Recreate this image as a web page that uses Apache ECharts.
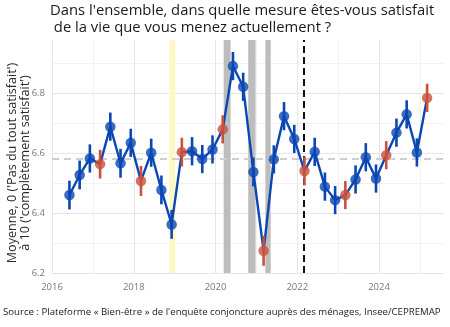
<!DOCTYPE html>
<html><head><meta charset="utf-8">
<script src="https://cdn.jsdelivr.net/npm/echarts@6/dist/echarts.min.js"></script>
<style>html,body{margin:0;padding:0;background:#fff}#c{width:450px;height:327px}</style>
</head><body><div id="c"></div>
<script>
// Quarterly survey waves (year-month)
var waves = ['2016-06','2016-09','2016-12','2017-03','2017-06','2017-09','2017-12','2018-03','2018-06','2018-09','2018-12',
 '2019-03','2019-06','2019-09','2019-12','2020-03','2020-06','2020-09','2020-12','2021-03','2021-06','2021-09','2021-12',
 '2022-03','2022-06','2022-09','2022-12','2023-03','2023-06','2023-09','2023-12','2024-03','2024-06','2024-09','2024-12','2025-03'];
var means = [6.46,6.527,6.582,6.563,6.688,6.566,6.634,6.507,6.601,6.477,6.362,
 6.603,6.606,6.58,6.612,6.679,6.89,6.821,6.537,6.274,6.579,6.723,6.647,
 6.54,6.604,6.488,6.443,6.46,6.512,6.586,6.515,6.593,6.668,6.729,6.602,6.784];
var errs = [0.048,0.048,0.047,0.048,0.047,0.048,0.047,0.05,0.047,0.048,0.048,
 0.048,0.047,0.047,0.047,0.047,0.047,0.047,0.048,0.05,0.047,0.047,0.047,
 0.048,0.047,0.047,0.047,0.047,0.047,0.047,0.047,0.047,0.047,0.047,0.047,0.047];
var overallMean = 6.58;
// Events: gilets jaunes, lockdowns, invasion of Ukraine
var yellowPeriods = [[2018.87, 2019.02]];
var greyPeriods = [[2020.2, 2020.37],[2020.8, 2020.98],[2021.22, 2021.35]];
var eventLine = 2022.15;
var yTicks = [6.2, 6.4, 6.6, 6.8];

function toYear(s){ var p = s.split('-'); return +p[0] + (+p[1]-1)/12 + 0.01; }
var BLUE = '#0a47b4', RED = '#c8503c';
var pts = waves.map(function(w,i){
  var m = +w.split('-')[1];
  return {value:[toYear(w), means[i], means[i]-errs[i], means[i]+errs[i]], itemStyle:{color: m===3?RED:BLUE}};
});
var lineData = waves.map(function(w,i){ return [toYear(w), means[i]]; });

var areas = [];
yellowPeriods.forEach(function(p){ areas.push([{xAxis:p[0], itemStyle:{color:'#fff8c6'}},{xAxis:p[1]}]); });
greyPeriods.forEach(function(p){ areas.push([{xAxis:p[0], itemStyle:{color:'#bdbdbd'}},{xAxis:p[1]}]); });

var major = '#e6e6e6', minor = '#f2f2f2';
var chart = echarts.init(document.getElementById('c'));
var FONT = 'Open Sans';
chart.setOption({
  animation:false,
  textStyle:{fontFamily:FONT},
  grid:{left:52, right:6, top:40, bottom:54},
  xAxis:{type:'value', min:2016, max:2025.59, interval:1,
    axisLine:{show:false}, axisTick:{show:false},
    axisLabel:{color:'#777', fontSize:9.5, margin:9, fontFamily:FONT,
      formatter:function(v){ return (Math.abs(v-Math.round(v))<1e-6 && Math.round(v)%2===0) ? String(Math.round(v)) : ''; }},
    splitLine:{show:true, lineStyle:{width:1, color:[major,minor,major,minor,major,minor,major,minor,major,minor,'rgba(0,0,0,0)']}}
  },
  yAxis:{type:'value', min:6.2, max:6.977, interval:0.1,
    axisLine:{show:false}, axisTick:{show:false},
    axisLabel:{color:'#777', fontSize:9.5, margin:7, fontFamily:FONT,
      formatter:function(v){ var r=Math.round(v*10)/10; return (Math.abs(v-r)<1e-6 && yTicks.indexOf(r)>=0) ? r.toFixed(1) : ''; }},
    splitLine:{show:true, lineStyle:{width:1, color:[major,minor,major,minor,major,minor,major,minor,'rgba(0,0,0,0)']}}
  },
  graphic:[
    {type:'text', left:50, top:3, style:{text:"Dans l'ensemble, dans quelle mesure êtes-vous satisfait\n de la vie que vous menez actuellement ?", fontSize:14.8, lineHeight:16.5, fill:'#1a1a1a', fontFamily:FONT}},
    {type:'text', x:19, y:163, rotation:Math.PI/2, style:{text:"Moyenne, 0 ('Pas du tout satisfait')\nà 10 ('complètement satisfait')", fontSize:12.6, lineHeight:13.5, fill:'#2a2a2a', align:'center', verticalAlign:'middle', fontFamily:FONT}},
    {type:'text', left:3, top:307, style:{text:"Source : Plateforme « Bien-être » de l'enquête conjoncture auprès des ménages, Insee/CEPREMAP", fontSize:9.65, fill:'#222', fontFamily:FONT}}
  ],
  series:[
    {type:'line', data:lineData, showSymbol:false, symbol:'none', z:3,
      lineStyle:{color:BLUE, width:2.4},
      markArea:{silent:true, z:1, data:areas},
      markLine:{silent:true, symbol:'none', z:2, label:{show:false},
        data:[
          {yAxis:overallMean, lineStyle:{color:'#cfcfcf', width:2, type:[7,5]}},
          {xAxis:eventLine, lineStyle:{color:'#111', width:2, type:[7,4]}}
        ]}
    },
    {type:'custom', z:4, data:pts,
      renderItem:function(params, api){
        var x = api.value(0);
        var a = api.coord([x, api.value(2)]);
        var b = api.coord([x, api.value(3)]);
        return {type:'line', shape:{x1:a[0], y1:a[1], x2:b[0], y2:b[1]}, style:{stroke:api.visual('color'), lineWidth:2.6}};
      },
      encode:{x:0, y:1}
    },
    {type:'scatter', z:5, data:pts.map(function(p){ return {value:[p.value[0], p.value[1]], itemStyle:p.itemStyle}; }),
      symbolSize:10.5}
  ]
});
</script></body></html>
